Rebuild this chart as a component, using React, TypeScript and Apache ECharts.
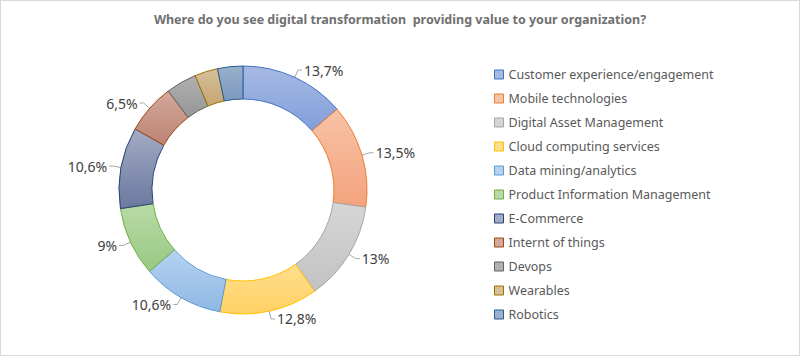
import React, { useEffect, useRef } from "react";
import * as echarts from "echarts";

const categories = [
  "Customer experience/engagement",
  "Mobile technologies",
  "Digital Asset Management",
  "Cloud computing services",
  "Data mining/analytics",
  "Product Information Management",
  "E-Commerce",
  "Internt of things",
  "Devops",
  "Wearables",
  "Robotics",
];
const values = [13.7, 13.5, 13, 12.8, 10.6, 9, 10.6, 6.5, 4.0, 3.0, 3.3];
const showLabel = [true, true, true, true, true, true, true, true, false, false, false];
const topColors = ["#A6B9E4", "#F7C3A5", "#D6D6D6", "#FFDE8E", "#B6D2EF", "#B8DAA6", "#A4ABC4", "#D3A89B", "#B0B0B0", "#D8BF98", "#9AB0CC"];
const bottomColors = ["#829FDA", "#F4A27E", "#C2C2C2", "#FFD163", "#8FB8E4", "#98C982", "#6A799F", "#BD8374", "#969696", "#C4A674", "#7C98BD"];
const edgeColors = ["#4472C4", "#ED7D31", "#A5A5A5", "#FFC000", "#5B9BD5", "#70AD47", "#264478", "#9E480E", "#636363", "#997300", "#255E91"];
const title = "Where do you see digital transformation  providing value to your organization?";

const fmt = (v: number) => String(v).replace(".", ",") + "%";

export default function App() {
  const ref = useRef<HTMLDivElement>(null);
  useEffect(() => {
    const chart = echarts.init(ref.current!, null, { renderer: "svg" });
    const ringData = categories.map((name, i) => ({
      name,
      value: values[i],
      itemStyle: {
        color: new echarts.graphic.LinearGradient(0, 0, 0, 1, [
          { offset: 0, color: topColors[i] },
          { offset: 1, color: bottomColors[i] },
        ]),
        borderColor: edgeColors[i],
        borderWidth: 1,
      },
    }));
    const labelData = categories.map((name, i) => ({
      name,
      value: values[i],
      label: { show: showLabel[i] },
      labelLine: { show: showLabel[i] },
    }));
    chart.setOption({
      animation: false,
      backgroundColor: "#ffffff",
      title: {
        text: title,
        left: "center",
        top: 7,
        textStyle: {
          fontFamily: "Noto Sans",
          fontSize: 12.5,
          fontWeight: "bold",
          color: "#707070",
        },
      },
      legend: {
        orient: "vertical",
        left: 488,
        top: 62,
        itemWidth: 9,
        itemHeight: 9,
        itemGap: 11,
        icon: "rect",
        textStyle: { fontFamily: "Noto Sans", fontSize: 12.5, color: "#595959" },
        data: categories.map((name, i) => ({
          name,
          itemStyle: { color: topColors[i], borderColor: edgeColors[i], borderWidth: 1 },
        })),
      },
      series: [
        {
          type: "pie",
          center: [242, 189],
          radius: [91, 124],
          startAngle: 90,
          clockwise: true,
          label: { show: false },
          labelLine: { show: false },
          data: ringData,
          silent: true,
        },
        {
          type: "pie",
          center: [242, 189],
          radius: [0, 108],
          startAngle: 90,
          clockwise: true,
          silent: true,
          legendHoverLink: false,
          itemStyle: { color: "rgba(0,0,0,0)", borderWidth: 0 },
          label: {
            show: true,
            position: "outside",
            formatter: (p: any) => fmt(p.value),
            fontFamily: "Noto Sans",
            fontSize: 14,
            color: "#404040",
            distanceToLabelLine: 2,
          },
          labelLine: {
            show: true,
            length: 24,
            length2: 4,
            lineStyle: { color: "#A6A6A6", width: 1 },
          },
          data: labelData,
        },
      ],
    });
    return () => chart.dispose();
  }, []);
  return (
    <div
      style={{
        position: "fixed",
        left: 0,
        top: 0,
        width: 800,
        height: 356,
        boxSizing: "border-box",
        border: "1px solid #D9D9D9",
        background: "#fff",
      }}
    >
      <div ref={ref} style={{ width: 798, height: 354 }} />
    </div>
  );
}
